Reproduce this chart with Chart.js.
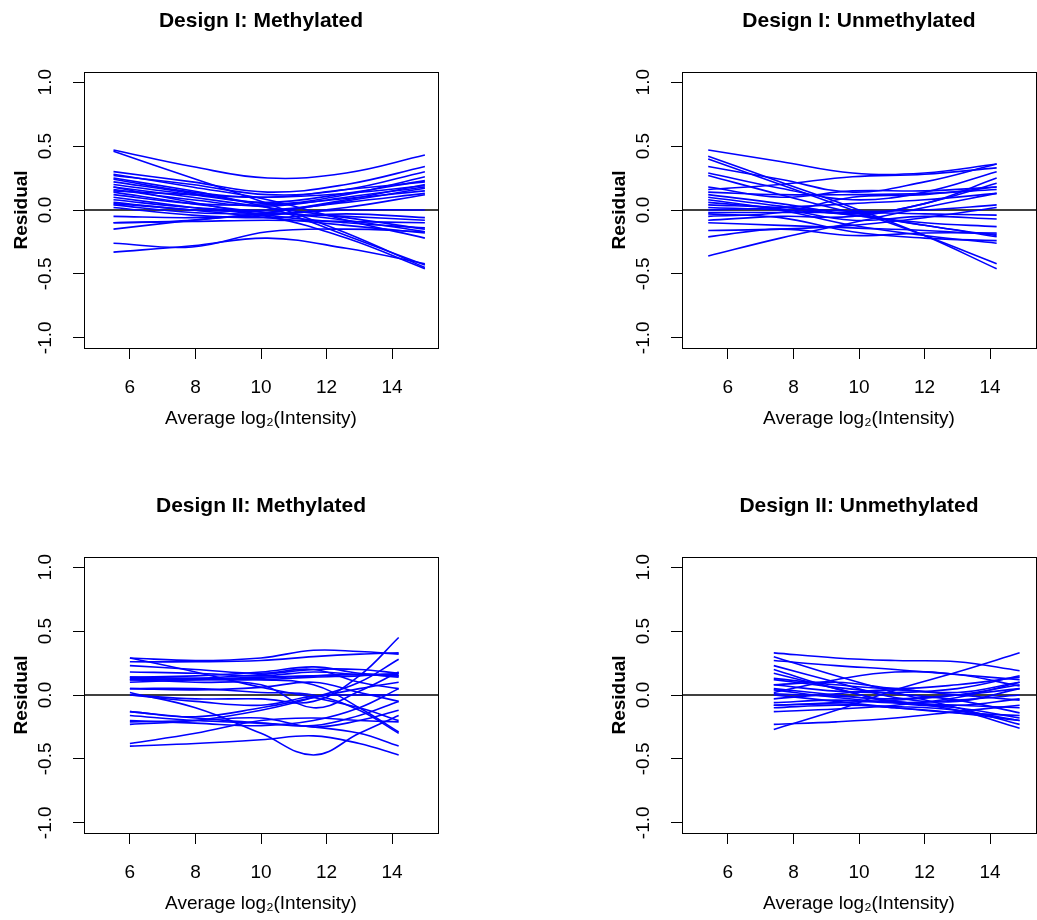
<!DOCTYPE html>
<html>
<head>
<meta charset="utf-8">
<script src="https://cdn.jsdelivr.net/npm/chart.js@4.4.1/dist/chart.umd.min.js"></script>
<style>
    html, body { margin: 0; padding: 0; background: #fff; overflow: hidden; }
    body { width: 1037px; height: 920px; position: relative; }
    canvas { position: absolute; }
</style>
</head>
<body>
<canvas id="p1" width="522" height="460" style="left:0px;top:0px"></canvas>
<canvas id="p2" width="522" height="460" style="left:598px;top:0px"></canvas>
<canvas id="p3" width="522" height="460" style="left:0px;top:485px"></canvas>
<canvas id="p4" width="522" height="460" style="left:598px;top:485px"></canvas>
<script>
const FONT = "'Liberation Sans', Arial, Helvetica, sans-serif";

const xTicks = [6, 8, 10, 12, 14];
const yTicks = [-1.0, -0.5, 0.0, 0.5, 1.0];
const xRange = [4.6, 15.4];
const yRange = [-1.08, 1.08];
const xLabel = 'Average log\u2082(Intensity)';
const yLabel = 'Residual';

// Design I: Methylated
const xDesign1Meth = [5.5, 7.9, 10.2, 12.6, 15.0];
const resDesign1Meth = [
    [0.47, 0.34, 0.25, 0.29, 0.43],
    [0.46, 0.25, 0.05, -0.18, -0.45],
    [0.30, 0.22, 0.14, 0.20, 0.34],
    [0.28, 0.18, 0.08, -0.08, -0.22],
    [0.27, 0.20, 0.12, 0.16, 0.30],
    [0.25, 0.15, 0.05, 0.12, 0.26],
    [0.22, 0.13, 0.02, -0.20, -0.43],
    [0.20, 0.12, 0.06, 0.13, 0.23],
    [0.18, 0.10, 0.02, -0.06, -0.15],
    [0.16, 0.08, 0.03, 0.10, 0.18],
    [0.14, 0.05, -0.02, -0.05, -0.08],
    [0.12, 0.05, 0.04, 0.09, 0.15],
    [0.10, 0.02, -0.05, -0.22, -0.46],
    [0.08, 0.02, 0.00, 0.06, 0.13],
    [0.06, 0.00, -0.02, -0.08, -0.17],
    [0.04, -0.02, -0.03, 0.00, 0.00],
    [-0.10, -0.08, -0.02, 0.08, 0.20],
    [-0.10, -0.09, -0.08, -0.09, -0.10],
    [-0.15, -0.08, -0.02, 0.07, 0.17],
    [-0.26, -0.29, -0.17, -0.15, -0.17],
    [-0.33, -0.28, -0.22, -0.30, -0.42],
    [0.02, -0.04, -0.06, -0.03, -0.06],
    [0.18, 0.06, -0.04, -0.10, -0.14],
    [0.24, 0.14, 0.10, 0.16, 0.22],
    [0.05, 0.00, -0.06, -0.12, -0.18],
    [0.15, 0.12, 0.10, 0.13, 0.19],
    [-0.05, -0.06, -0.04, 0.02, 0.12]
];

// Design I: Unmethylated
const xDesign1Unmeth = [5.4, 7.6, 9.8, 12.0, 14.2];
const resDesign1Unmeth = [
    [0.47, 0.38, 0.29, 0.29, 0.36],
    [0.42, 0.22, 0.02, -0.20, -0.46],
    [0.40, 0.20, 0.00, -0.20, -0.42],
    [0.34, 0.24, 0.14, 0.22, 0.36],
    [0.29, 0.17, 0.08, 0.14, 0.30],
    [0.18, 0.10, 0.15, 0.15, 0.18],
    [0.16, 0.20, 0.26, 0.28, 0.33],
    [0.12, 0.05, -0.04, -0.10, -0.13],
    [0.08, 0.00, -0.12, -0.20, -0.26],
    [0.04, 0.02, -0.01, 0.00, 0.04],
    [0.02, 0.00, -0.04, -0.12, -0.21],
    [0.00, 0.02, 0.05, 0.08, 0.13],
    [-0.02, -0.02, -0.02, -0.03, -0.04],
    [-0.05, -0.02, 0.10, 0.12, 0.18],
    [-0.08, -0.05, -0.05, 0.05, 0.21],
    [-0.16, -0.15, -0.12, -0.06, 0.02],
    [-0.21, -0.15, -0.20, -0.18, -0.18],
    [-0.36, -0.22, -0.10, 0.02, 0.13],
    [0.06, 0.01, -0.08, -0.05, -0.07],
    [0.10, 0.03, -0.03, 0.05, 0.25],
    [-0.03, -0.06, -0.17, -0.22, -0.24],
    [0.27, 0.12, -0.02, -0.12, -0.20],
    [0.14, 0.12, 0.12, 0.13, 0.16],
    [-0.10, -0.12, -0.14, -0.16, -0.19]
];

// Design II: Methylated
const xDesign2Meth = [6.0, 8.0, 10.0, 11.6, 13.0, 14.2];
const resDesign2Meth = [
    [0.29, 0.27, 0.29, 0.35, 0.34, 0.32],
    [0.26, 0.26, 0.27, 0.30, 0.32, 0.33],
    [0.29, 0.18, 0.06, -0.02, -0.10, -0.20],
    [0.23, 0.20, 0.17, 0.20, 0.10, 0.05],
    [0.18, 0.17, 0.15, 0.18, 0.16, 0.15],
    [0.14, 0.15, 0.18, 0.22, 0.17, 0.16],
    [0.12, 0.10, 0.08, -0.10, 0.03, 0.18],
    [0.12, 0.13, 0.16, 0.20, 0.20, 0.17],
    [0.10, 0.12, 0.14, 0.15, 0.16, 0.14],
    [0.05, 0.04, 0.06, 0.10, 0.02, -0.05],
    [0.00, -0.03, -0.03, -0.05, 0.15, 0.45],
    [0.00, -0.05, -0.08, -0.01, 0.00, 0.00],
    [-0.13, -0.17, -0.10, -0.02, 0.05, 0.10],
    [-0.13, -0.18, -0.22, -0.25, -0.30, -0.40],
    [-0.21, -0.20, -0.18, -0.25, -0.20, -0.12],
    [-0.23, -0.20, -0.12, -0.02, 0.10, 0.28],
    [-0.38, -0.30, -0.20, -0.18, -0.20, -0.21],
    [-0.40, -0.38, -0.35, -0.32, -0.38, -0.47],
    [0.02, -0.10, -0.30, -0.47, -0.30, -0.16],
    [0.05, 0.05, 0.02, 0.00, -0.12, -0.30],
    [0.14, 0.13, 0.12, 0.08, -0.10, -0.29],
    [-0.16, -0.20, -0.22, -0.24, -0.16, -0.05],
    [0.13, 0.12, 0.12, 0.14, 0.15, 0.17],
    [0.12, 0.12, 0.13, 0.15, 0.16, 0.15],
    [-0.20, -0.22, -0.24, -0.20, -0.10, 0.05]
];

// Design II: Unmethylated
const xDesign2Unmeth = [7.4, 9.3, 11.1, 13.0, 14.9];
const resDesign2Unmeth = [
    [0.33, 0.29, 0.27, 0.26, 0.19],
    [0.30, 0.15, 0.02, -0.10, -0.23],
    [0.27, 0.23, 0.20, 0.16, 0.12],
    [0.23, 0.10, -0.02, -0.05, 0.05],
    [0.17, 0.05, -0.06, -0.10, -0.18],
    [0.13, 0.08, 0.05, 0.08, 0.14],
    [0.02, 0.12, 0.18, 0.16, 0.07],
    [0.08, 0.03, 0.02, 0.05, 0.15],
    [0.04, -0.02, -0.06, -0.08, -0.10],
    [0.01, -0.01, -0.03, 0.00, 0.05],
    [-0.03, 0.01, 0.04, 0.00, -0.04],
    [-0.08, -0.06, -0.04, 0.00, 0.08],
    [-0.10, -0.08, -0.09, -0.12, -0.20],
    [-0.13, -0.11, -0.08, -0.02, 0.10],
    [-0.27, -0.12, 0.04, 0.18, 0.33],
    [-0.23, -0.21, -0.18, -0.13, -0.08],
    [0.05, 0.00, -0.05, -0.12, -0.26],
    [0.00, -0.05, -0.10, -0.14, -0.16],
    [0.12, 0.06, 0.01, -0.04, -0.14],
    [-0.06, -0.04, -0.06, -0.04, 0.00],
    [0.08, 0.10, 0.05, 0.02, 0.10],
    [-0.08, -0.07, -0.10, -0.14, -0.20],
    [0.20, 0.05, -0.05, -0.08, -0.03]
];

function setTicks(values) {
    return function (scale) {
        scale.ticks = values.map(v => ({ value: v }));
    };
}

function buildChart(target, title, xs, curves) {
    const datasets = curves.map(curve => ({
        data: xs.map((x, i) => ({ x: x, y: curve[i] })),
        borderColor: '#0000ff',
        borderWidth: 1.6,
        pointRadius: 0,
        tension: 0.4,
        fill: false
    }));
    // abline(h = 0)
    datasets.push({
        data: [{ x: xRange[0], y: 0 }, { x: xRange[1], y: 0 }],
        borderColor: '#000000',
        borderWidth: 1.4,
        pointRadius: 0,
        tension: 0
    });

    new Chart(document.getElementById(target), {
        type: 'line',
        data: { datasets: datasets },
        options: {
            responsive: false,
            animation: false,
            events: [],
            layout: { padding: 0 },
            plugins: {
                legend: { display: false },
                tooltip: { enabled: false },
                title: {
                    display: true,
                    text: title,
                    color: '#000',
                    font: { family: FONT, size: 21, weight: 'bold' },
                    padding: { top: 9, bottom: 37.8 }
                }
            },
            scales: {
                x: {
                    type: 'linear',
                    position: 'bottom',
                    min: xRange[0],
                    max: xRange[1],
                    afterBuildTicks: setTicks(xTicks),
                    afterFit: s => { s.height = 112; },
                    grid: { drawOnChartArea: false, drawTicks: true, tickLength: 11, color: '#000', lineWidth: 1 },
                    border: { display: true, color: '#000', width: 1 },
                    ticks: { color: '#000', font: { family: FONT, size: 19 }, padding: 17, maxRotation: 0, autoSkip: false },
                    title: { display: true, text: xLabel, color: '#000', font: { family: FONT, size: 19 }, padding: { top: 0, bottom: 30 } }
                },
                xTop: {
                    type: 'linear',
                    position: 'top',
                    min: xRange[0],
                    max: xRange[1],
                    afterFit: s => { s.height = 0; },
                    grid: { display: false },
                    border: { display: true, color: '#000', width: 1 },
                    ticks: { display: false }
                },
                y: {
                    type: 'linear',
                    position: 'left',
                    min: yRange[0],
                    max: yRange[1],
                    afterBuildTicks: setTicks(yTicks),
                    afterFit: s => { s.width = 84; },
                    grid: { drawOnChartArea: false, drawTicks: true, tickLength: 11, color: '#000', lineWidth: 1 },
                    border: { display: true, color: '#000', width: 1 },
                    ticks: {
                        color: '#000',
                        font: { family: FONT, size: 19 },
                        padding: 11,
                        minRotation: 90,
                        maxRotation: 90,
                        crossAlign: 'center',
                        autoSkip: false,
                        callback: v => v.toFixed(1)
                    },
                    title: { display: true, text: yLabel, color: '#000', font: { family: FONT, size: 19, weight: 'bold' }, padding: { top: 10, bottom: 0 } }
                },
                yRight: {
                    type: 'linear',
                    position: 'right',
                    min: yRange[0],
                    max: yRange[1],
                    afterFit: s => { s.width = 84; },
                    grid: { display: false },
                    border: { display: true, color: '#000', width: 1 },
                    ticks: { display: false }
                }
            }
        }
    });
}

document.addEventListener('DOMContentLoaded', function () {
    buildChart('p1', 'Design I: Methylated', xDesign1Meth, resDesign1Meth);
    buildChart('p2', 'Design I: Unmethylated', xDesign1Unmeth, resDesign1Unmeth);
    buildChart('p3', 'Design II: Methylated', xDesign2Meth, resDesign2Meth);
    buildChart('p4', 'Design II: Unmethylated', xDesign2Unmeth, resDesign2Unmeth);
});
</script>
</body>
</html>
